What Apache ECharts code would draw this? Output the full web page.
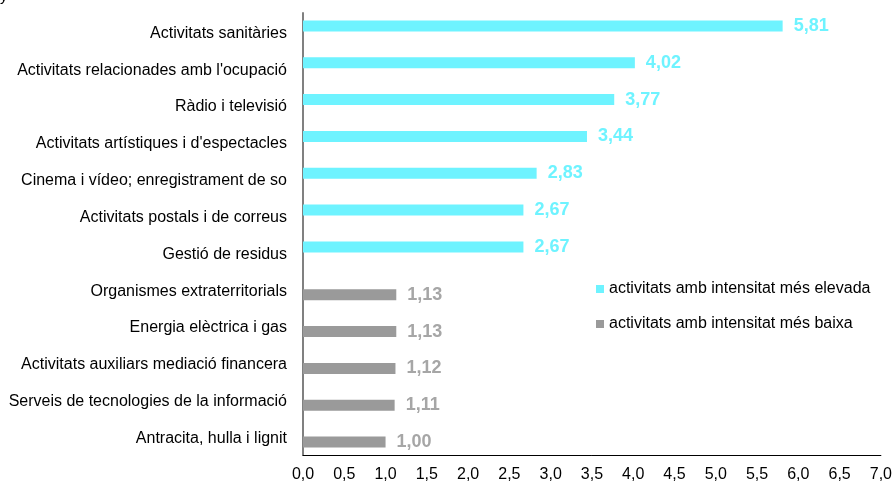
<!DOCTYPE html>
<html><head><meta charset="utf-8">
<script src="https://cdn.jsdelivr.net/npm/echarts@6/dist/echarts.min.js"></script>
<style>html,body{margin:0;padding:0;background:#fff}#c{width:895px;height:483px}</style>
</head><body><div id="c"></div>
<script>
const categories = ["Activitats sanitàries","Activitats relacionades amb l'ocupació","Ràdio i televisió","Activitats artístiques i d'espectacles","Cinema i vídeo; enregistrament de so","Activitats postals i de correus","Gestió de residus","Organismes extraterritorials","Energia elèctrica i gas","Activitats auxiliars mediació financera","Serveis de tecnologies de la informació","Antracita, hulla i lignit"];
const highValues = [5.81,4.02,3.77,3.44,2.83,2.67,2.67,null,null,null,null,null];
const lowValues = [null,null,null,null,null,null,null,1.13,1.13,1.12,1.11,1.00];
const seriesNames = ["activitats amb intensitat més elevada","activitats amb intensitat més baixa"];
const xTicks = {min:0,max:7,interval:0.5};
const fmt = v => v.toFixed(2).replace('.', ',');
const font = '"Liberation Sans", Arial, sans-serif';
const chart = echarts.init(document.getElementById('c'));
chart.setOption({
  animation:false,
  grid:{left:303,right:11,top:13,bottom:26,containLabel:false},
  legend:{orient:'vertical',left:591,top:276,itemWidth:8,itemHeight:8,itemGap:19,icon:'rect',
    textStyle:{fontFamily:font,fontSize:16,color:'#000'},data:seriesNames},
  xAxis:{type:'value',min:xTicks.min,max:xTicks.max,interval:xTicks.interval,
    axisLine:{show:true,lineStyle:{color:'#000',width:1}},axisTick:{show:false},splitLine:{show:false},
    axisLabel:{fontFamily:font,fontSize:16,color:'#000',margin:12,formatter:v=>v.toFixed(1).replace('.',',')}},
  yAxis:{type:'category',inverse:true,data:categories,
    axisLine:{show:true,lineStyle:{color:'#808080',width:2}},axisTick:{show:false},
    axisLabel:{fontFamily:font,fontSize:16,color:'#000',margin:16,lineHeight:16,verticalAlign:'top',padding:[-6,0,0,0]}},
  series:[
    {name:seriesNames[0],type:'bar',data:highValues,barWidth:11,barGap:'0%',
     itemStyle:{color:'#6EF3FF'},
     label:{show:true,position:'right',distance:11,fontFamily:font,fontSize:18,fontWeight:'bold',color:'#6EF3FF',formatter:p=>fmt(p.value)}},
    {name:seriesNames[1],type:'bar',data:lowValues,barWidth:11,barGap:'0%',
     itemStyle:{color:'#9A9A9A'},
     label:{show:true,position:'right',distance:11,fontFamily:font,fontSize:18,fontWeight:'bold',color:'#A6A6A6',formatter:p=>fmt(p.value)}}
  ],
  graphic:[{type:'text',left:0,top:-11,style:{text:'y',fontFamily:font,fontSize:15,fill:'#000'}}]
});
</script></body></html>
